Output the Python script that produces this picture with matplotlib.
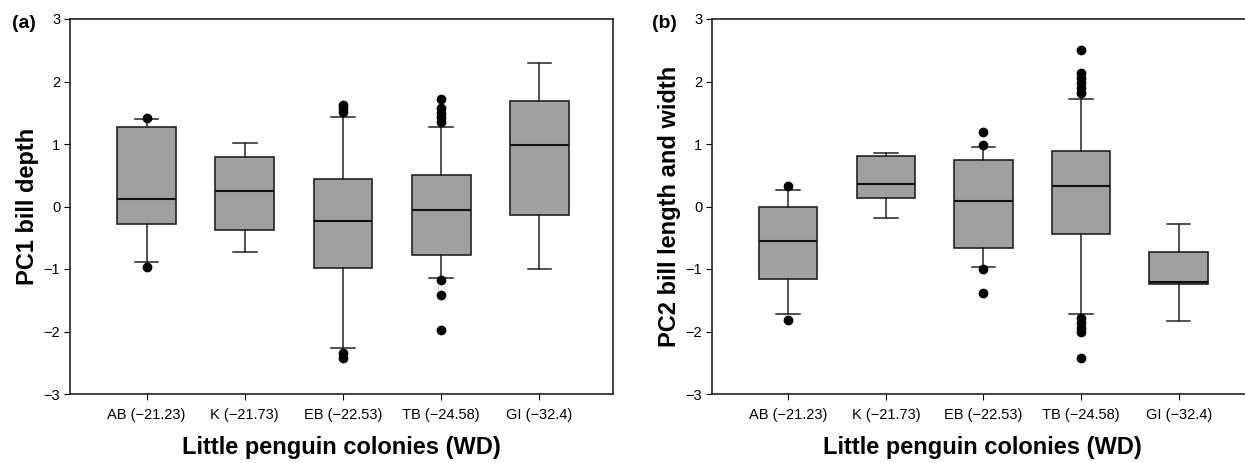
import matplotlib
matplotlib.use("Agg")
import matplotlib.pyplot as plt

plt.rcParams['font.family'] = ['Liberation Sans', 'DejaVu Sans']

colonies = ["AB (\u221221.23)", "K (\u221221.73)", "EB (\u221222.53)", "TB (\u221224.58)", "GI (\u221232.4)"]

# Panel (a): PC1 bill depth
a_q1 = [-0.28, -0.37, -0.98, -0.78, -0.13]
a_med = [0.12, 0.25, -0.23, -0.06, 0.99]
a_q3 = [1.27, 0.80, 0.44, 0.51, 1.69]
a_wlo = [-0.89, -0.72, -2.26, -1.15, -1.00]
a_whi = [1.40, 1.02, 1.44, 1.27, 2.30]
a_fliers = [
    [1.42, -0.96],
    [],
    [1.52, 1.58, 1.63, -2.34, -2.42],
    [1.72, 1.57, 1.50, 1.43, 1.35, -1.18, -1.42, -1.98],
    [],
]

# Panel (b): PC2 bill length and width
b_q1 = [-1.16, 0.13, -0.67, -0.44, -1.24]
b_med = [-0.55, 0.36, 0.09, 0.33, -1.20]
b_q3 = [0.00, 0.81, 0.74, 0.89, -0.72]
b_wlo = [-1.72, -0.18, -0.96, -1.72, -1.83]
b_whi = [0.26, 0.86, 0.95, 1.72, -0.28]
b_fliers = [
    [0.33, -1.81],
    [],
    [0.99, 1.20, -1.00, -1.39],
    [2.51, 2.13, 2.05, 1.97, 1.89, 1.82, -1.78, -1.86, -1.94, -2.00, -2.43],
    [],
]

yticks = [-3, -2, -1, 0, 1, 2, 3]
xlabel = "Little penguin colonies (WD)"
ylabels = ["PC1 bill depth", "PC2 bill length and width"]
panel_tags = ["(a)", "(b)"]


def make_stats(q1, med, q3, wlo, whi, fl):
    out = []
    for i in range(len(q1)):
        out.append(dict(q1=q1[i], med=med[i], q3=q3[i], whislo=wlo[i],
                        whishi=whi[i], fliers=fl[i]))
    return out


W, H = 1245, 463
fig = plt.figure(figsize=(W / 100, H / 100), dpi=100)
axA = fig.add_axes([70 / W, 1 - 394 / H, (613 - 70) / W, (394 - 19) / H])
axB = fig.add_axes([712 / W, 1 - 394 / H, (1252 - 712) / W, (394 - 19) / H])

panels = [
    (axA, make_stats(a_q1, a_med, a_q3, a_wlo, a_whi, a_fliers)),
    (axB, make_stats(b_q1, b_med, b_q3, b_wlo, b_whi, b_fliers)),
]

for k, (ax, stats) in enumerate(panels):
    ax.bxp(stats, positions=range(1, 6), widths=0.6, patch_artist=True,
           boxprops=dict(facecolor='#a0a0a0', edgecolor='#222222', linewidth=1.2),
           medianprops=dict(color='#111111', linewidth=1.5),
           whiskerprops=dict(color='#222222', linewidth=1.1),
           capprops=dict(color='#222222', linewidth=1.1),
           capwidths=0.24,
           flierprops=dict(marker='o', markerfacecolor='black', markeredgecolor='black',
                           markersize=6))
    ax.set_xlim(0.22, 5.75)
    ax.set_ylim(-3, 3)
    ax.set_yticks(yticks)
    ax.set_xticks(range(1, 6))
    ax.set_xticklabels(colonies, fontsize=10.5)
    ax.tick_params(axis='y', labelsize=10.5, length=4, direction='out', pad=3)
    ax.tick_params(axis='x', length=4, direction='out', pad=6)
    for sp in ax.spines.values():
        sp.set_linewidth(1.2)
        sp.set_color('#222222')
    ax.set_xlabel(xlabel, fontsize=17, fontweight='bold', labelpad=10)
    ax.set_ylabel(ylabels[k], fontsize=17, fontweight='bold', labelpad=3)

fig.text(12 / W, 1 - 24 / H, panel_tags[0], fontsize=14, fontweight='bold', va='center')
fig.text(652 / W, 1 - 24 / H, panel_tags[1], fontsize=14, fontweight='bold', va='center')

fig.savefig("out.png", dpi=100)
